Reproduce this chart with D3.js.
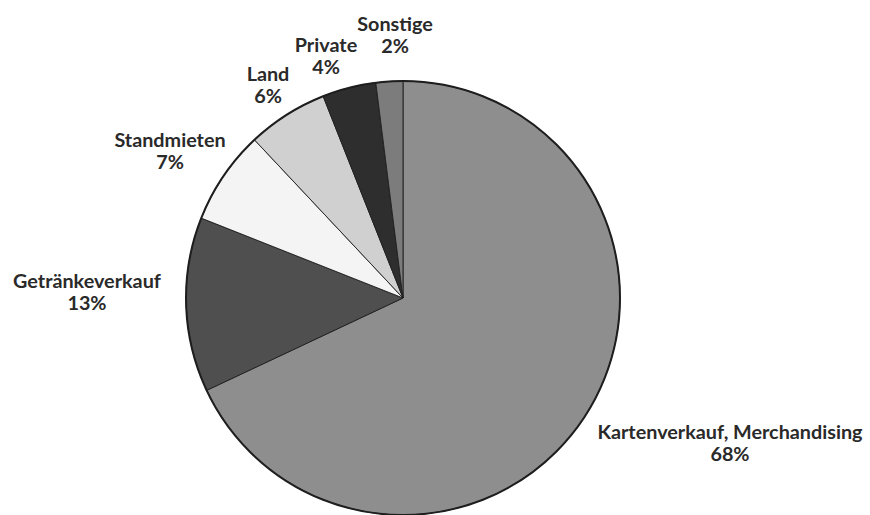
<!DOCTYPE html>
<html><head><meta charset="utf-8">
<script src="https://cdn.jsdelivr.net/npm/d3@7"></script>
<style>body{margin:0;background:#fff}svg{display:block}</style>
</head><body>
<svg id="c" width="870" height="515"></svg>
<script>
const categories = ["Kartenverkauf, Merchandising","Getränkeverkauf","Standmieten","Land","Private","Sonstige"];
const values = [68,13,7,6,4,2];
const pctLabels = ["68%","13%","7%","6%","4%","2%"];
const colors = ["#8e8e8e","#4f4f4f","#f4f4f4","#d0d0d0","#2e2e2e","#7c7c7c"];
// label anchor positions (center x, first baseline y)
const labelPos = [[730,439],[87,288],[170,147],[268,81],[326,52],[395,31]];

const svg = d3.select("#c");
const cx = 403, cy = 298, R = 217;
const g = svg.append("g").attr("transform",`translate(${cx},${cy})`);
const pie = d3.pie().sort(null).value(d=>d)(values);
const arc = d3.arc().innerRadius(0).outerRadius(R);
g.selectAll("path.s").data(pie).enter().append("path")
  .attr("class","s").attr("d",arc)
  .attr("fill",(d,i)=>colors[i]).attr("stroke","#1e1e1e").attr("stroke-width",0.9).attr("stroke-linejoin","round");
g.append("circle").attr("r",R).attr("fill","none").attr("stroke","#1e1e1e").attr("stroke-width",2);

const lab = svg.append("g").attr("font-family","Lato, 'Open Sans', sans-serif").attr("font-weight","bold")
  .attr("font-size",19.8).attr("fill","#2a2a2a").attr("text-anchor","middle");
categories.forEach((c,i)=>{
  const t = lab.append("text").attr("x",labelPos[i][0]).attr("y",labelPos[i][1]);
  t.append("tspan").attr("x",labelPos[i][0]).text(c);
  t.append("tspan").attr("x",labelPos[i][0]).attr("dy",22).text(pctLabels[i]);
});
</script>
</body></html>
